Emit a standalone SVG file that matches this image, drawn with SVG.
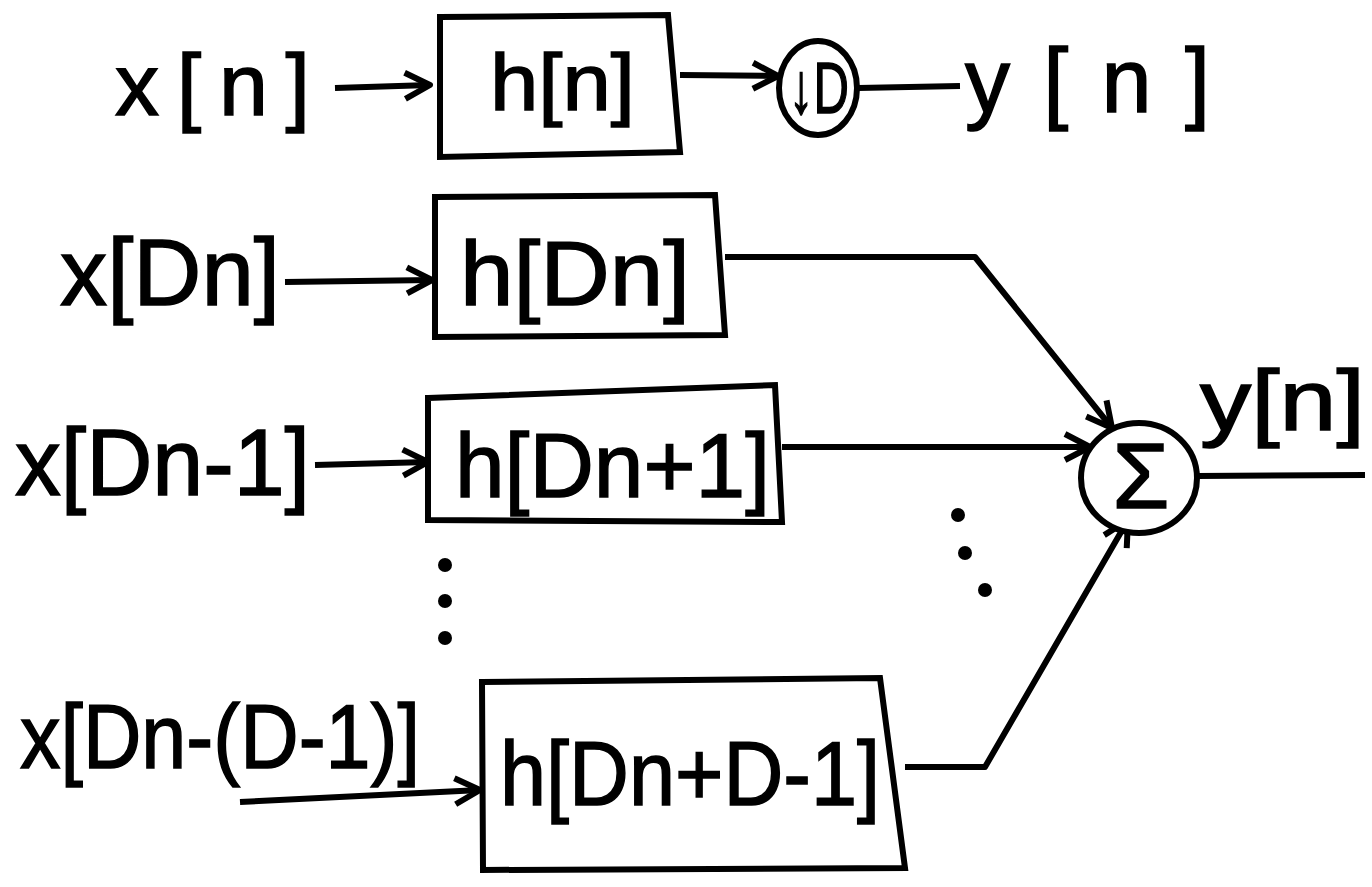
<svg xmlns="http://www.w3.org/2000/svg" width="1372" height="887" viewBox="0 0 1372 887">
<style>
.t{font-family:"Liberation Sans","DejaVu Sans",sans-serif;fill:#000;stroke:#000;stroke-width:1.5}
.b{fill:#fff;stroke:#000;stroke-width:6;stroke-linejoin:miter}
.c{fill:none;stroke:#000;stroke-width:6;stroke-linejoin:round}
.a{marker-end:url(#ah)}
.d{fill:#000}
</style>
<defs>
<marker id="ah" markerUnits="userSpaceOnUse" markerWidth="34" markerHeight="34" viewBox="0 0 34 34" refX="31" refY="17" orient="auto" overflow="visible">
<path d="M6,4 L31,17 L6,30" fill="none" stroke="#000" stroke-width="6" stroke-linejoin="round"/>
</marker>
</defs>
<rect width="1372" height="887" fill="#fff"/>
<g id="connectors">
<path class="c a" d="M335,88 L430,85"/>
<path class="c a" d="M680,75 L778,76"/>
<path class="c" d="M858,88 L960,86"/>
<path class="c a" d="M285,282 L432,280"/>
<path class="c a" d="M725,257 L975,257 L1112,428"/>
<path class="c a" d="M315,465 L428,462"/>
<path class="c a" d="M782,447 L1090,447"/>
<path class="c a" d="M240,802 L480,790"/>
<path class="c a" d="M905,767 L985,767 L1128,520"/>
<path class="c" d="M1197,476 L1365,475"/>
</g>
<g id="in_xn"><text class="t" x="115" y="115" font-size="88" textLength="195" lengthAdjust="spacing">x[n]</text></g>
<g id="box_hn">
<path class="b" d="M440,17 L668,15 L680,152 L440,157 Z"/>
<text class="t" x="490" y="110" font-size="80" textLength="145" lengthAdjust="spacingAndGlyphs">h[n]</text>
</g>
<g id="down_D">
<ellipse class="b" cx="818" cy="88" rx="39" ry="47"/>
<text class="t" x="789" y="113" font-size="72" textLength="60" lengthAdjust="spacingAndGlyphs">↓D</text>
</g>
<g id="out_yn_top"><text class="t" x="965" y="112" font-size="90" textLength="245" lengthAdjust="spacing">y[n]</text></g>
<g id="in_xDn"><text class="t" x="60" y="305" font-size="95" textLength="220" lengthAdjust="spacingAndGlyphs">x[Dn]</text></g>
<g id="box_hDn">
<path class="b" d="M435,197 L715,195 L725,335 L435,337 Z"/>
<text class="t" x="460" y="305" font-size="90" textLength="230" lengthAdjust="spacingAndGlyphs">h[Dn]</text>
</g>
<g id="in_xDn1"><text class="t" x="15" y="495" font-size="95" textLength="295" lengthAdjust="spacingAndGlyphs">x[Dn-1]</text></g>
<g id="box_hDn1">
<path class="b" d="M428,398 L775,385 L782,522 L428,520 Z"/>
<text class="t" x="455" y="497" font-size="90" textLength="315" lengthAdjust="spacingAndGlyphs">h[Dn+1]</text>
</g>
<g id="sum">
<ellipse class="b" cx="1139" cy="478" rx="58" ry="55"/>
<text class="t" x="1141" y="508" font-size="92" text-anchor="middle">Σ</text>
</g>
<g id="out_yn"><text class="t" x="1200" y="430" font-size="85" textLength="165" lengthAdjust="spacingAndGlyphs">y[n]</text></g>
<g id="dots">
<circle class="d" cx="445" cy="565" r="7"/>
<circle class="d" cx="445" cy="601" r="7"/>
<circle class="d" cx="445" cy="638" r="7"/>
<circle class="d" cx="958" cy="515" r="7"/>
<circle class="d" cx="965" cy="553" r="7"/>
<circle class="d" cx="985" cy="590" r="7"/>
</g>
<g id="in_xlast"><text class="t" x="20" y="768" font-size="90" textLength="400" lengthAdjust="spacingAndGlyphs">x[Dn-(D-1)]</text></g>
<g id="box_hlast">
<path class="b" d="M482,682 L880,678 L905,868 L483,870 Z"/>
<text class="t" x="500" y="805" font-size="90" textLength="380" lengthAdjust="spacingAndGlyphs">h[Dn+D-1]</text>
</g>
</svg>
